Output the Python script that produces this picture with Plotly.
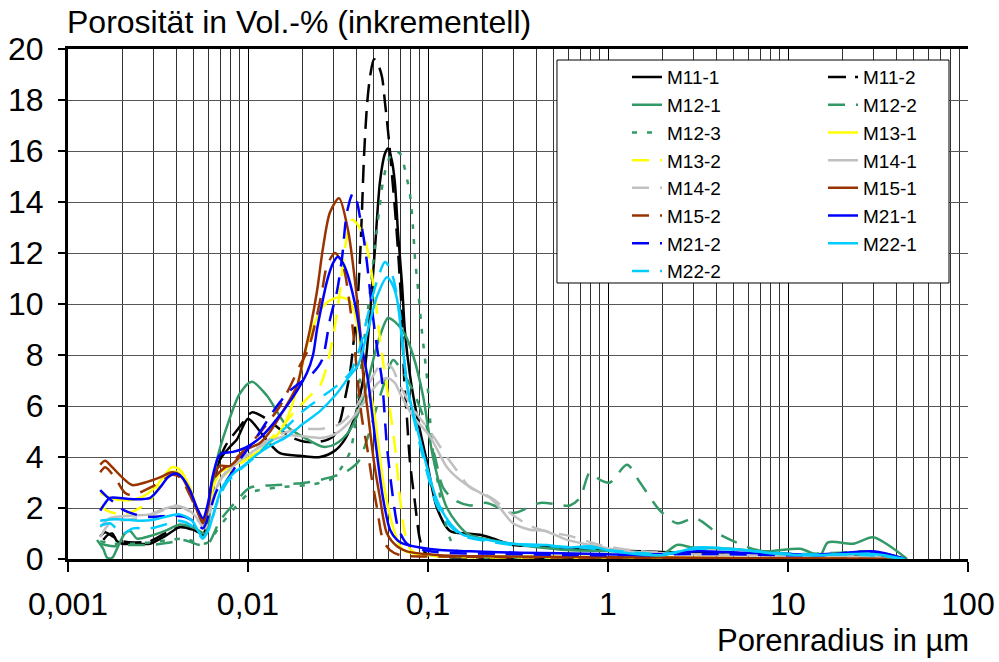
import plotly.graph_objects as go

# Pore radius in µm and incremental porosity in Vol.-%
m11_1_r = [0.00157, 0.00167, 0.00176, 0.00187, 0.00200, 0.00236, 0.00286, 0.00346, 0.00419, 0.00476, 0.00528, 0.00562, 0.00615, 0.00656, 0.00699, 0.00794, 0.00869, 0.0100, 0.01137, 0.01292, 0.01506, 0.01945, 0.02512, 0.03043, 0.03459, 0.0393, 0.0419, 0.04467, 0.04762, 0.05077, 0.05412, 0.05768, 0.05995, 0.0631, 0.06556, 0.06813, 0.0717, 0.0745, 0.07943, 0.08689, 0.09873, 0.1122, 0.1326, 0.1647, 0.1945, 0.2417, 0.2966, 0.4584, 0.615, 0.9028, 1.506, 2.512, 5.412, 11.66, 25.12, 36.87, 44.67]
m11_1_v = [0.75, 0.95, 1.0, 0.7, 0.6, 0.6, 0.6, 0.9, 1.25, 1.2, 1.05, 0.95, 2.0, 3.2, 3.9, 4.4, 4.7, 5.5, 5.1, 4.6, 4.15, 4.05, 4.0, 4.25, 4.7, 5.6, 6.4, 7.5, 9.6, 12.2, 14.8, 15.9, 16.1, 15.6, 14.7, 12.8, 10.8, 8.9, 7.2, 5.6, 3.8, 2.0, 1.1, 1.0, 0.95, 0.75, 0.55, 0.5, 0.4, 0.35, 0.3, 0.25, 0.2, 0.15, 0.1, 0.05, 0.0]

m11_2_r = [0.00151, 0.00161, 0.00176, 0.00200, 0.00236, 0.00286, 0.00346, 0.00419, 0.00489, 0.00562, 0.00615, 0.00656, 0.00745, 0.00903, 0.01052, 0.01196, 0.01377, 0.01711, 0.02073, 0.02512, 0.02966, 0.03244, 0.03459, 0.03687, 0.03831, 0.04032, 0.0419, 0.04299, 0.04411, 0.04584, 0.04762, 0.05012, 0.05275, 0.05553, 0.05768, 0.06072, 0.06391, 0.06641, 0.06901, 0.0717, 0.07356, 0.07643, 0.07943, 0.08468, 0.09028, 0.09624, 0.1166, 0.2512, 44.67]
m11_2_v = [0.9, 1.05, 0.9, 0.7, 0.65, 0.7, 1.0, 1.25, 1.15, 0.95, 2.2, 3.3, 4.4, 5.2, 5.75, 5.6, 5.3, 4.8, 4.6, 4.6, 4.8, 5.4, 6.3, 7.3, 8.3, 9.8, 11.8, 13.7, 15.8, 17.8, 18.9, 19.6, 19.4, 18.9, 17.9, 16.4, 14.6, 13.2, 11.5, 9.5, 7.2, 5.5, 3.8, 2.2, 0.75, 0.25, 0.1, 0.05, 0.0]

m12_1_r = [0.00145, 0.00157, 0.00165, 0.00176, 0.00187, 0.00207, 0.00221, 0.00242, 0.00286, 0.00346, 0.00419, 0.00508, 0.00577, 0.00631, 0.00673, 0.00764, 0.00903, 0.01052, 0.01275, 0.01647, 0.02127, 0.0261, 0.03043, 0.03548, 0.04032, 0.04642, 0.05275, 0.05995, 0.06556, 0.0745, 0.08254, 0.0938, 0.1066, 0.1275, 0.1647, 0.221, 0.2966, 0.419, 0.5918, 1.166, 2.021, 2.417, 2.966, 4.762, 7.643, 11.66, 15.06, 16.68, 22.97, 29.66, 36.87, 45.84]
m12_1_v = [0.75, 0.4, 0.05, 0.05, 0.4, 1.0, 1.1, 0.8, 0.9, 1.1, 1.35, 1.2, 1.0, 2.5, 3.9, 5.2, 6.5, 6.95, 6.4, 5.2, 4.7, 4.4, 4.5, 4.9, 5.6, 7.0, 8.5, 9.45, 9.3, 8.8, 8.0, 6.4, 4.0, 2.0, 1.0, 0.75, 0.6, 0.45, 0.35, 0.3, 0.2, 0.55, 0.45, 0.4, 0.3, 0.4, 0.15, 0.65, 0.6, 0.85, 0.5, 0.0]

m12_2_r = [0.00151, 0.00178, 0.00221, 0.00286, 0.00369, 0.00436, 0.00541, 0.006, 0.00699, 0.00869, 0.01026, 0.01449, 0.02127, 0.02855, 0.03459, 0.04084, 0.04642, 0.05209, 0.05843, 0.06391, 0.06988, 0.08254, 0.09624, 0.1094, 0.1212, 0.1413, 0.1711, 0.2127, 0.2966, 0.419, 0.615, 0.6988, 0.7943, 0.9028, 1.026, 1.275, 1.506, 1.945, 2.417, 3.043, 4.19, 6.727, 10.66, 19.45, 29.66, 44.67]
m12_2_v = [0.6, 0.5, 0.55, 0.55, 0.65, 0.75, 0.55, 0.6, 1.5, 2.3, 2.8, 2.9, 3.0, 3.2, 3.4, 3.8, 4.8, 6.0, 7.1, 7.8, 7.5, 6.6, 5.4, 4.0, 2.8, 2.3, 2.1, 2.2, 1.8, 2.2, 2.1, 2.4, 3.4, 3.1, 3.0, 3.7, 3.0, 1.9, 1.4, 1.6, 0.95, 0.35, 0.2, 0.25, 0.3, 0.0]

m12_3_r = [0.00151, 0.00178, 0.00221, 0.00286, 0.00369, 0.00447, 0.00541, 0.006, 0.00699, 0.00869, 0.01026, 0.01449, 0.02127, 0.02855, 0.03244, 0.03687, 0.03981, 0.0419, 0.04525, 0.04824, 0.05077, 0.05342, 0.05623, 0.05995, 0.06474, 0.06988, 0.07643, 0.07943, 0.08254, 0.08468, 0.08799, 0.09261, 0.09873, 0.1026, 0.1066, 0.1122, 0.1212, 0.1326, 0.1449, 0.1711, 0.9028, 44.67]
m12_3_v = [0.7, 0.6, 0.6, 0.65, 0.75, 0.8, 0.6, 0.65, 1.3, 2.1, 2.6, 2.8, 2.9, 3.1, 3.5, 4.2, 5.5, 7.1, 9.2, 10.8, 12.3, 13.6, 14.8, 15.6, 16.0, 15.9, 14.9, 14.3, 13.0, 11.8, 10.6, 8.9, 7.1, 5.5, 4.2, 3.2, 1.8, 0.8, 0.3, 0.1, 0.05, 0.0]

m13_1_r = [0.00151, 0.00171, 0.00207, 0.00251, 0.00304, 0.00346, 0.00378, 0.00419, 0.00476, 0.00521, 0.00562, 0.006, 0.00639, 0.00699, 0.00794, 0.00903, 0.01026, 0.01243, 0.01506, 0.01711, 0.01945, 0.02127, 0.02297, 0.0261, 0.02966, 0.03371, 0.03687, 0.0393, 0.0419, 0.04525, 0.05012, 0.05623, 0.06391, 0.07263, 0.1026, 0.2512, 3.244, 44.67]
m13_1_v = [2.6, 2.4, 2.3, 2.4, 2.8, 3.3, 3.6, 3.5, 2.8, 2.0, 1.6, 1.9, 2.8, 3.4, 3.6, 3.8, 4.0, 4.4, 5.0, 5.8, 7.2, 8.4, 9.1, 9.9, 10.2, 10.25, 10.1, 9.6, 8.5, 7.3, 5.8, 3.1, 1.25, 0.35, 0.15, 0.1, 0.05, 0.0]

m13_2_r = [0.00151, 0.00171, 0.002, 0.00236, 0.00286, 0.00324, 0.00369, 0.00408, 0.00476, 0.00521, 0.00562, 0.006, 0.00639, 0.00717, 0.00847, 0.01026, 0.01243, 0.01506, 0.01824, 0.0221, 0.02512, 0.02748, 0.02966, 0.03244, 0.03459, 0.03782, 0.04084, 0.04467, 0.04762, 0.05077, 0.05412, 0.05995, 0.06556, 0.06988, 0.0745, 0.07943, 0.08689, 0.1166, 0.9028, 44.67]
m13_2_v = [2.05, 1.85, 1.75, 1.9, 2.3, 2.9, 3.4, 3.4, 2.6, 1.9, 1.5, 1.8, 2.6, 3.2, 3.6, 4.0, 4.5, 5.1, 5.8, 6.4, 6.8, 7.6, 8.7, 10.5, 12.2, 13.3, 13.1, 12.5, 11.6, 10.3, 8.6, 6.4, 4.4, 2.4, 1.0, 0.4, 0.2, 0.1, 0.05, 0.0]

m14_1_r = [0.00151, 0.00171, 0.00221, 0.00286, 0.00324, 0.00378, 0.00447, 0.00508, 0.00562, 0.00615, 0.00699, 0.00815, 0.00962, 0.01166, 0.01413, 0.01711, 0.02073, 0.02512, 0.03043, 0.03687, 0.04467, 0.05275, 0.05918, 0.06556, 0.06988, 0.08254, 0.1026, 0.1275, 0.1506, 0.1945, 0.221, 0.2512, 0.2966, 0.3687, 0.4467, 0.5918, 0.8689, 1.275, 2.512, 6.988, 22.10, 44.67]
m14_1_v = [1.25, 1.6, 1.7, 1.75, 1.9, 2.05, 2.0, 1.7, 1.3, 2.0, 3.1, 3.6, 4.0, 4.4, 4.7, 4.85, 4.8, 4.75, 4.9, 5.4, 6.2, 6.9, 7.1, 6.9, 6.5, 5.6, 4.8, 3.6, 3.1, 2.6, 2.4, 2.0, 1.4, 1.15, 1.1, 0.75, 0.5, 0.3, 0.2, 0.15, 0.1, 0.0]

m14_2_r = [0.00151, 0.00171, 0.00221, 0.00286, 0.00346, 0.00393, 0.00464, 0.00528, 0.00577, 0.00631, 0.00717, 0.00847, 0.01026, 0.01243, 0.01506, 0.01945, 0.02512, 0.03244, 0.0393, 0.04642, 0.05275, 0.05768, 0.0631, 0.06988, 0.08254, 0.1026, 0.1275, 0.1506, 0.1711, 0.2127, 0.2356, 0.2855, 0.3687, 0.4762, 0.615, 0.9028, 1.326, 2.512, 9.028, 25.12, 44.67]
m14_2_v = [0.85, 1.4, 1.55, 1.7, 1.95, 2.1, 1.9, 1.5, 1.2, 2.2, 3.2, 3.8, 4.2, 4.6, 4.9, 5.1, 5.1, 5.3, 5.9, 6.8, 7.5, 7.7, 7.5, 6.8, 5.9, 5.0, 4.0, 3.3, 2.8, 2.5, 2.3, 1.8, 1.3, 1.05, 0.9, 0.55, 0.35, 0.2, 0.15, 0.1, 0.0]

m15_1_r = [0.00151, 0.00161, 0.00176, 0.002, 0.00227, 0.00268, 0.00324, 0.00378, 0.00419, 0.00476, 0.00521, 0.00562, 0.006, 0.00639, 0.00699, 0.00794, 0.00987, 0.01166, 0.01326, 0.01565, 0.01872, 0.02021, 0.0221, 0.02417, 0.0261, 0.02855, 0.03203, 0.03594, 0.0393, 0.0419, 0.04355, 0.04642, 0.05012, 0.05412, 0.05918, 0.06727, 0.07643, 0.1166, 0.2512, 3.244, 44.67]
m15_1_v = [3.7, 3.85, 3.6, 3.2, 2.9, 3.0, 3.2, 3.4, 3.3, 2.6, 1.9, 1.4, 2.0, 3.2, 3.65, 3.65, 4.3, 4.55, 5.0, 5.8, 6.8, 7.8, 9.0, 10.5, 12.2, 13.6, 14.15, 12.9, 10.9, 9.0, 7.3, 5.7, 3.8, 2.4, 1.0, 0.5, 0.3, 0.15, 0.1, 0.05, 0.0]

m15_2_r = [0.00151, 0.00161, 0.00182, 0.00207, 0.00227, 0.00268, 0.00324, 0.00378, 0.00419, 0.00476, 0.00521, 0.00562, 0.006, 0.00639, 0.00717, 0.00815, 0.01026, 0.01243, 0.01506, 0.01778, 0.01945, 0.02154, 0.02356, 0.02577, 0.02748, 0.03043, 0.03371, 0.03687, 0.0388, 0.04084, 0.04299, 0.04584, 0.04886, 0.05209, 0.05623, 0.0615, 0.06988, 0.1166, 0.9028, 44.67]
m15_2_v = [3.4, 3.6, 3.2, 2.6, 2.5, 2.7, 3.0, 3.3, 3.2, 2.5, 1.9, 1.5, 2.1, 3.1, 3.5, 3.8, 4.5, 5.2, 6.0, 7.0, 7.6, 8.2, 9.2, 10.5, 11.5, 12.0, 11.5, 9.9, 8.6, 6.9, 5.5, 4.4, 3.1, 2.0, 0.75, 0.35, 0.15, 0.1, 0.05, 0.0]

m21_1_r = [0.00151, 0.00161, 0.00171, 0.00221, 0.00286, 0.00324, 0.00359, 0.00393, 0.0043, 0.00476, 0.00521, 0.00562, 0.006, 0.00639, 0.00699, 0.00825, 0.00987, 0.01166, 0.01377, 0.01778, 0.02127, 0.02297, 0.02417, 0.02577, 0.02748, 0.02966, 0.03162, 0.03371, 0.03594, 0.04032, 0.04299, 0.04642, 0.04949, 0.05275, 0.05623, 0.0615, 0.06727, 0.07263, 0.09028, 0.1166, 0.1711, 0.3244, 0.9028, 1.711, 3.122, 5.412, 10.26, 15.06, 29.66, 44.67]
m21_1_v = [1.9, 2.2, 2.4, 2.35, 2.4, 2.8, 3.2, 3.35, 3.2, 2.7, 2.0, 1.6, 2.2, 3.3, 4.1, 4.2, 4.4, 4.75, 5.3, 6.35, 7.3, 8.0, 9.0, 10.0, 10.9, 11.6, 11.85, 11.6, 11.1, 9.6, 8.3, 7.0, 5.4, 3.8, 2.4, 1.15, 0.75, 0.6, 0.45, 0.35, 0.3, 0.25, 0.2, 0.15, 0.3, 0.25, 0.2, 0.15, 0.3, 0.0]

m21_2_r = [0.00151, 0.00167, 0.00182, 0.002, 0.00236, 0.00286, 0.00369, 0.00447, 0.00508, 0.00562, 0.00615, 0.00673, 0.00764, 0.00903, 0.01122, 0.01449, 0.01711, 0.02021, 0.02297, 0.02577, 0.02855, 0.03122, 0.03329, 0.03548, 0.03831, 0.04032, 0.0419, 0.04411, 0.04584, 0.04886, 0.05209, 0.05553, 0.05918, 0.06391, 0.06813, 0.07643, 0.1026, 0.2512, 0.9028, 3.244, 11.66, 28.55, 44.67]
m21_2_v = [2.7, 2.4, 2.2, 1.95, 1.75, 1.65, 1.7, 1.65, 1.45, 1.2, 1.9, 2.7, 3.1, 3.9, 4.8, 6.0, 6.6, 7.0, 7.3, 7.8, 9.4, 10.5, 11.8, 13.6, 14.35, 14.0, 13.4, 12.5, 11.6, 9.8, 8.3, 7.0, 4.4, 2.4, 1.25, 0.6, 0.3, 0.2, 0.15, 0.2, 0.15, 0.25, 0.0]

m22_1_r = [0.00151, 0.00171, 0.002, 0.00251, 0.00304, 0.00369, 0.00419, 0.00489, 0.00528, 0.00562, 0.006, 0.00639, 0.00717, 0.00815, 0.00962, 0.01122, 0.01377, 0.01647, 0.02021, 0.02512, 0.03122, 0.03687, 0.04084, 0.04642, 0.05209, 0.05918, 0.0631, 0.06727, 0.07263, 0.07743, 0.08577, 0.09873, 0.1122, 0.1326, 0.1565, 0.2127, 0.2966, 0.4584, 0.5918, 0.7943, 1.066, 2.021, 3.122, 4.762, 9.028, 13.77, 29.66, 44.67]
m22_1_v = [1.5, 1.55, 1.55, 1.5, 1.55, 1.7, 1.75, 1.5, 1.1, 0.85, 1.1, 1.7, 2.8, 3.3, 3.7, 4.1, 4.5, 4.8, 5.3, 5.8, 6.5, 7.2, 7.6, 9.0, 10.3, 11.05, 10.8, 10.2, 8.2, 6.6, 5.3, 3.6, 2.3, 1.4, 0.95, 0.75, 0.6, 0.55, 0.45, 0.5, 0.3, 0.15, 0.45, 0.4, 0.2, 0.15, 0.2, 0.0]

m22_2_r = [0.00151, 0.00171, 0.002, 0.0023, 0.00286, 0.00346, 0.00408, 0.00476, 0.00528, 0.00562, 0.00615, 0.00673, 0.00764, 0.00903, 0.01094, 0.01326, 0.01647, 0.02021, 0.02512, 0.03122, 0.03687, 0.0419, 0.04642, 0.05209, 0.05768, 0.0615, 0.06474, 0.06988, 0.0745, 0.07943, 0.08799, 0.09873, 0.1122, 0.1326, 0.1565, 0.2127, 0.2966, 0.4584, 0.6988, 1.166, 2.021, 3.122, 5.412, 10.26, 28.55, 44.67]
m22_2_v = [1.3, 1.4, 1.0, 1.2, 1.2, 1.35, 1.5, 1.35, 1.0, 0.8, 1.3, 2.2, 3.0, 3.5, 4.0, 4.6, 5.2, 5.8, 6.3, 6.8, 7.3, 8.3, 9.6, 10.9, 11.65, 11.4, 10.9, 9.6, 7.5, 6.2, 4.8, 3.4, 2.1, 1.3, 0.9, 0.7, 0.55, 0.5, 0.45, 0.3, 0.2, 0.4, 0.35, 0.2, 0.15, 0.0]

x_tick_vals = [0.001, 0.01, 0.1, 1, 10, 100]
x_tick_text = ["0,001", "0,01", "0,1", "1", "10", "100"]

BLACK, GREEN, YELLOW, GRAY, BROWN, BLUE, CYAN = (
    "#000000", "#339966", "#FFFF00", "#C0C0C0", "#993300", "#0000FF", "#00CCFF")
DASH_K = "18px,9px"
DASH_C = "17px,11px"
DOT = "5px,10px"

# (name, radius, porosity, colour, dash, legend column)
series = [
    ("M11-1", m11_1_r, m11_1_v, BLACK, "solid", "legend"),
    ("M11-2", m11_2_r, m11_2_v, BLACK, DASH_K, "legend2"),
    ("M12-1", m12_1_r, m12_1_v, GREEN, "solid", "legend"),
    ("M12-2", m12_2_r, m12_2_v, GREEN, DASH_C, "legend2"),
    ("M12-3", m12_3_r, m12_3_v, GREEN, DOT, "legend"),
    ("M13-1", m13_1_r, m13_1_v, YELLOW, "solid", "legend2"),
    ("M13-2", m13_2_r, m13_2_v, YELLOW, DASH_C, "legend"),
    ("M14-1", m14_1_r, m14_1_v, GRAY, "solid", "legend2"),
    ("M14-2", m14_2_r, m14_2_v, GRAY, DASH_C, "legend"),
    ("M15-1", m15_1_r, m15_1_v, BROWN, "solid", "legend2"),
    ("M15-2", m15_2_r, m15_2_v, BROWN, DASH_C, "legend"),
    ("M21-1", m21_1_r, m21_1_v, BLUE, "solid", "legend2"),
    ("M21-2", m21_2_r, m21_2_v, BLUE, DASH_C, "legend"),
    ("M22-1", m22_1_r, m22_1_v, CYAN, "solid", "legend2"),
    ("M22-2", m22_2_r, m22_2_v, CYAN, DASH_C, "legend"),
]

FONT = "Liberation Sans, Arial, sans-serif"
LEG_FONT = dict(family=FONT, size=19, color="black")

fig = go.Figure()
for name, r, v, color, dash, leg in series:
    fig.add_trace(go.Scatter(
        x=r, y=v, name=name, mode="lines", legend=leg,
        line=dict(color=color, width=2.5, dash=dash, shape="spline", smoothing=0.8),
    ))

minor_vals = [m * 10.0 ** e for e in range(-3, 2) for m in range(2, 10)]

leg_common = dict(orientation="v", y=0.982, xanchor="left", yanchor="top",
                  bgcolor="rgba(0,0,0,0)", borderwidth=0, font=LEG_FONT,
                  tracegroupgap=0)

fig.update_layout(
    width=999, height=662,
    margin=dict(l=68, r=31, t=49, b=103, autoexpand=False),
    paper_bgcolor="white", plot_bgcolor="white",
    font=dict(family=FONT, color="black", size=32),
    showlegend=True,
    legend=dict(x=0.6211, **leg_common),
    legend2=dict(x=0.8389, **leg_common),
    xaxis=dict(
        type="log", range=[-3, 2], automargin=False,
        tickmode="array", tickvals=x_tick_vals, ticktext=x_tick_text,
        showgrid=True, gridcolor="black", gridwidth=1,
        minor=dict(tickmode="array", tickvals=minor_vals, showgrid=True,
                   gridcolor="#333333", gridwidth=1, ticks=""),
        showline=True, linecolor="black", linewidth=3, mirror=True,
        ticks="outside", ticklen=10, tickwidth=2, tickcolor="black",
        tickfont=dict(family=FONT, size=32, color="black"),
        ticklabelstandoff=5, zeroline=False,
    ),
    yaxis=dict(
        range=[0, 20], tickmode="linear", tick0=0, dtick=2, automargin=False,
        showgrid=True, gridcolor="#555555", gridwidth=1,
        showline=True, linecolor="black", linewidth=3,
        ticks="outside", ticklen=7, tickwidth=2, tickcolor="black",
        tickfont=dict(family=FONT, size=32, color="black"),
        ticklabelstandoff=8, zeroline=False,
    ),
    shapes=[
        # legend frame (white background hides the grid, like the original legend box)
        dict(type="rect", xref="paper", yref="paper", layer="above",
             x0=0.5433, x1=0.9789, y0=0.5412, y1=0.9784,
             fillcolor="white", line=dict(color="black", width=1)),
    ],
    annotations=[
        dict(text="Porosität in Vol.-% (inkrementell)", xref="paper", yref="paper",
             x=-0.003, y=1.053, xanchor="left", yanchor="middle", showarrow=False,
             font=dict(family=FONT, size=32, color="black")),
        dict(text="Porenradius in µm", xref="paper", yref="paper",
             x=1.003, y=-0.159, xanchor="right", yanchor="middle", showarrow=False,
             font=dict(family=FONT, size=31, color="black")),
    ],
)

fig.write_html("out.html", config={"displayModeBar": False},
               post_script="document.body.style.margin='0';")
